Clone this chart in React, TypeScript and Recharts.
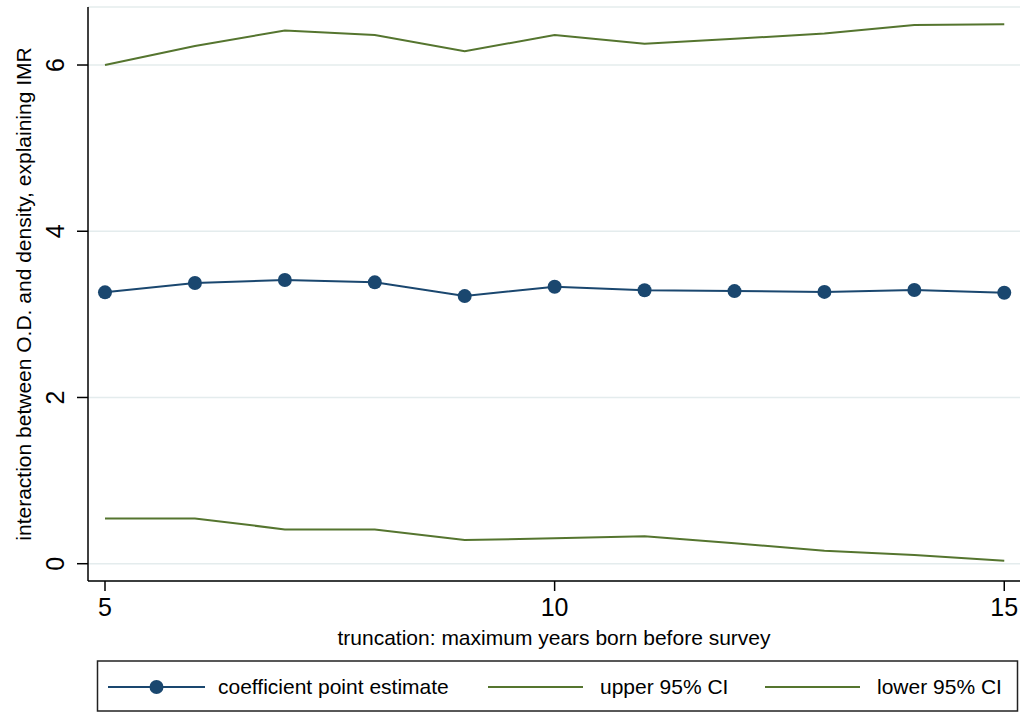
import React from 'react';
import { LineChart, Line, XAxis, YAxis, CartesianGrid } from 'recharts';

const truncation = [5, 6, 7, 8, 9, 10, 11, 12, 13, 14, 15];
const pointEstimate = [3.265, 3.378, 3.414, 3.385, 3.22, 3.333, 3.29, 3.28, 3.27, 3.294, 3.26];
const upperCI = [6.0, 6.23, 6.415, 6.36, 6.167, 6.36, 6.255, 6.315, 6.38, 6.48, 6.49];
const lowerCI = [0.545, 0.545, 0.413, 0.413, 0.285, 0.305, 0.329, 0.245, 0.156, 0.104, 0.036];
const xTicks = [5, 10, 15];
const yTicks = [0, 2, 4, 6];
const seriesNames = ['coefficient point estimate', 'upper 95% CI', 'lower 95% CI'];
const xTitle = 'truncation: maximum years born before survey';
const yTitle = 'interaction between O.D. and density, explaining IMR';

const NAVY = '#1a476f';
const GREEN = '#55752f';
const GRID = '#e4eced';
const FONT = '"Liberation Sans", Arial, Helvetica, sans-serif';

const data = truncation.map((t, i) => ({
  t,
  est: pointEstimate[i],
  upper: upperCI[i],
  lower: lowerCI[i],
}));

const XTick = (props: any) => {
  const { x, y, payload } = props;
  return (
    <text x={x} y={y + 23} textAnchor="middle" fontSize={25} fontFamily={FONT} fill="#000">
      {payload.value}
    </text>
  );
};

const YTick = (props: any) => {
  const { x, y, payload } = props;
  const bx = x - 11;
  return (
    <text
      x={bx}
      y={y}
      transform={`rotate(-90, ${bx}, ${y})`}
      textAnchor="middle"
      fontSize={25}
      fontFamily={FONT}
      fill="#000"
    >
      {payload.value}
    </text>
  );
};

const XLabel = (props: any) => {
  const vb = props.viewBox || { x: 88, y: 581, width: 932 };
  return (
    <text x={vb.x + vb.width / 2} y={vb.y + 64} textAnchor="middle" fontSize={21} fontFamily={FONT} fill="#000">
      {xTitle}
    </text>
  );
};

const YLabel = (props: any) => {
  const vb = props.viewBox || { x: 0, y: 7, width: 88, height: 574 };
  const cx = 31;
  const cy = vb.y + vb.height / 2;
  return (
    <text
      x={cx}
      y={cy}
      transform={`rotate(-90, ${cx}, ${cy})`}
      textAnchor="middle"
      fontSize={21}
      fontFamily={FONT}
      fill="#000"
    >
      {yTitle}
    </text>
  );
};

const LegendBox = () => {
  const items = [
    { name: seriesNames[0], color: NAVY, x1: 108, x2: 205, textX: 218, marker: true },
    { name: seriesNames[1], color: GREEN, x1: 488, x2: 583, textX: 600, marker: false },
    { name: seriesNames[2], color: GREEN, x1: 765, x2: 860, textX: 877, marker: false },
  ];
  const cy = 687;
  return (
    <svg
      width={1023}
      height={713}
      style={{ position: 'absolute', left: 0, top: 0, pointerEvents: 'none' }}
    >
      <rect x={97.5} y={661} width={920} height={50} fill="#fff" stroke="#222" strokeWidth={1.5} />
      {items.map((it) => (
        <g key={it.name}>
          <line x1={it.x1} x2={it.x2} y1={cy} y2={cy} stroke={it.color} strokeWidth={2} />
          {it.marker && <circle cx={(it.x1 + it.x2) / 2} cy={cy} r={7} fill={it.color} />}
          <text x={it.textX} y={cy + 7} fontSize={21} fontFamily={FONT} fill="#000">
            {it.name}
          </text>
        </g>
      ))}
    </svg>
  );
};

export default function App() {
  return (
    <div style={{ position: 'absolute', left: 0, top: 0, width: 1023, height: 713, background: '#fff' }}>
      <LineChart
        width={1023}
        height={713}
        data={data}
        margin={{ top: 7, right: 3, bottom: 52, left: 0 }}
      >
        <CartesianGrid vertical={false} horizontal={true} stroke={GRID} strokeWidth={1.5} />
        <XAxis
          dataKey="t"
          type="number"
          domain={[4.811, 15.175]}
          ticks={xTicks}
          allowDataOverflow
          height={80}
          tickSize={10}
          tickMargin={2}
          axisLine={{ stroke: '#000', strokeWidth: 1.5 }}
          tickLine={{ stroke: '#000', strokeWidth: 1.5 }}
          tick={<XTick />}
          label={<XLabel />}
        />
        <YAxis
          type="number"
          domain={[-0.208, 6.698]}
          ticks={yTicks}
          allowDataOverflow
          width={88}
          tickSize={11}
          tickMargin={2}
          axisLine={{ stroke: '#000', strokeWidth: 1.5 }}
          tickLine={{ stroke: '#000', strokeWidth: 1.5 }}
          tick={<YTick />}
          label={<YLabel />}
        />
        <Line
          dataKey="upper"
          stroke={GREEN}
          strokeWidth={2}
          dot={false}
          activeDot={false}
          isAnimationActive={false}
          type="linear"
        />
        <Line
          dataKey="lower"
          stroke={GREEN}
          strokeWidth={2}
          dot={false}
          activeDot={false}
          isAnimationActive={false}
          type="linear"
        />
        <Line
          dataKey="est"
          stroke={NAVY}
          strokeWidth={2}
          dot={{ r: 7, fill: NAVY, stroke: NAVY, strokeWidth: 0 }}
          activeDot={false}
          isAnimationActive={false}
          type="linear"
        />
      </LineChart>
      <LegendBox />
    </div>
  );
}
